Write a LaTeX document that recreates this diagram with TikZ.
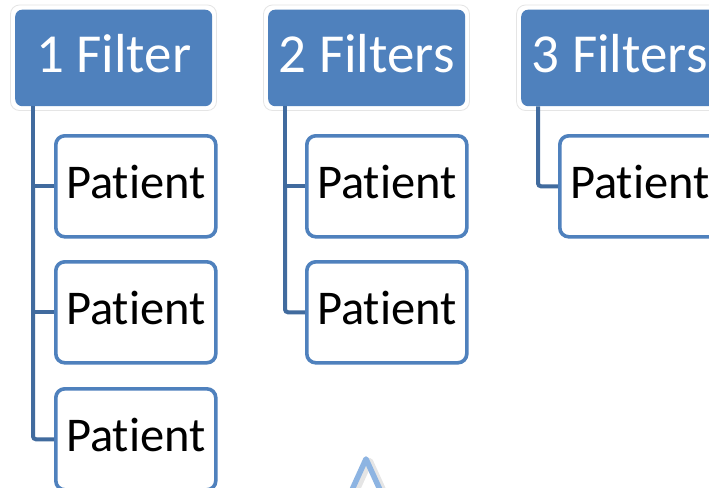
\documentclass[tikz,border=0pt]{standalone}
\usepackage{fontspec}
\setmainfont[Ligatures={NoCommon,NoRare,NoContextual}]{Carlito}
\usetikzlibrary{calc}
\definecolor{acc}{HTML}{4F81BD}
\definecolor{conn}{HTML}{416B9E}
\definecolor{caret}{HTML}{8DB4E2}
\begin{document}
\begin{tikzpicture}[x=1pt,y=-1pt,
  hdr/.style={fill=acc,rounded corners=7pt,minimum width=197pt,minimum height=96.5pt,inner sep=0pt,
    text=white,font=\fontsize{55}{60}\selectfont,text height=30pt,text depth=0pt,anchor=north west},
  halo/.style={draw=black!10,line width=0.8pt,rounded corners=9pt,fill=white},
  pat/.style={draw=acc,line width=3.6pt,fill=white,rounded corners=9pt,minimum width=160pt,minimum height=101pt,
    inner sep=0pt,font=\fontsize{48.5}{52}\selectfont,text height=24.4pt,text depth=0pt,anchor=north west},
  link/.style={draw=conn,line width=4pt},
  caretline/.style={draw=caret,line width=5.5pt,line cap=round,line join=round}]
\useasboundingbox (0,0) rectangle (709,487);
\fill[white] (0,0) rectangle (709,487);
\clip (0,0) rectangle (709,487);
% halos behind headers
\foreach \dx in {0,253,506}{
  \path[halo] (10.5+\dx,5) rectangle (216.5+\dx,110.5);
}
% headers
\node[hdr] (h1) at (15,9.5) {1 Filter};
\node[hdr] (h2) at (268,9.5) {2 Filters};
\node[hdr] (h3) at (521,9.5) {3 Filters};
% patient boxes
\node[pat] (p11) at (54,134) {Patient};
\node[pat] (p12) at (54,260) {Patient};
\node[pat] (p13) at (54,387) {Patient};
\node[pat] (p21) at (305,134) {Patient};
\node[pat] (p22) at (305,260) {Patient};
\node[pat] (p31) at (558,134) {Patient};
% connectors
\coordinate (c1) at ($(h1.south west)+(18,0)$);
\draw[link] (c1) -- (c1 |- p11.west) -- (p11.west);
\draw[link] (c1 |- p12.west) -- (p12.west);
\draw[link,rounded corners=3pt] (c1 |- p11.west) -- (c1 |- p13.west) -- (p13.west);
\coordinate (c2) at ($(h2.south west)+(17,0)$);
\draw[link] (c2) -- (c2 |- p21.west) -- (p21.west);
\draw[link,rounded corners=3pt] (c2 |- p21.west) -- (c2 |- p22.west) -- (p22.west);
\coordinate (c3) at ($(h3.south west)+(17,0)$);
\draw[link,rounded corners=3pt] (c3) -- (c3 |- p31.west) -- (p31.west);
% caret at the bottom
\coordinate (ka) at (366,459);
\coordinate (kl) at (351,492);
\coordinate (kr) at (381,492);
\draw[caretline,draw=black,opacity=0.1,line width=6pt] ([shift={(4,2)}]kl) -- ([shift={(4,2)}]ka) -- ([shift={(4,2)}]kr);
\draw[caretline] (kl) -- (ka) -- (kr);
\end{tikzpicture}
\end{document}
